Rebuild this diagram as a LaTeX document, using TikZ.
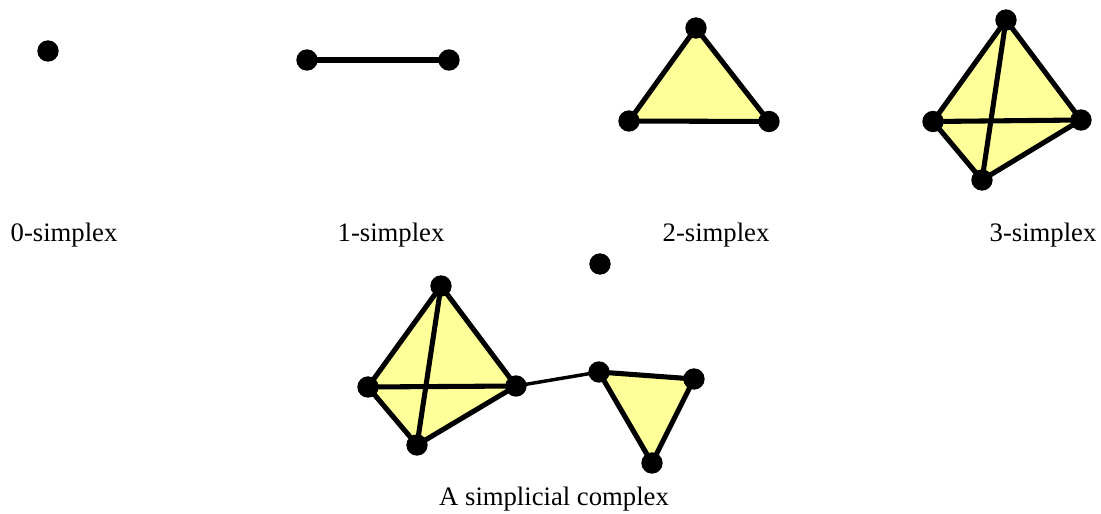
\documentclass[tikz,border=0pt]{standalone}
\usepackage{fontspec}
\setmainfont{Liberation Serif}
\usetikzlibrary{backgrounds}
\tikzset{
    vertex/.style={circle,fill=black,inner sep=0pt,outer sep=0pt,minimum size=16pt},
    edge/.style={line width=3.8pt,black},
    thinedge/.style={line width=2.6pt,black},
    face/.style={fill=facecolor},
    caption/.style={font=\fontsize{20pt}{24pt}\selectfont,inner sep=0pt}
}
\definecolor{facecolor}{HTML}{FFFF99}
\begin{document}
\begin{tikzpicture}[x=0.75pt,y=-0.75pt]
            \useasboundingbox (0,0) rectangle (1101,514);
            % 0-simplex
            \node[vertex] (p) at (48,51) {};
            \node[caption] (cp) at (64,235) {0-simplex};
            % 1-simplex
            \node[vertex] (la) at (307,60) {};
            \node[vertex] (lb) at (449,60) {};
            \draw[edge] (la.center) -- (lb.center);
            \node[caption] (cl) at (391,235) {1-simplex};
            % 2-simplex
            \node[vertex] (ta) at (696,28) {};
            \node[vertex] (tb) at (629,121) {};
            \node[vertex] (tc) at (769,121.5) {};
            \begin{scope}[on background layer]
                \fill[face] (ta.center) -- (tb.center) -- (tc.center) -- cycle;
                \draw[edge] (ta.center) -- (tb.center) -- (tc.center) -- cycle;
            \end{scope}
            \node[caption] (ct) at (716,235) {2-simplex};
            % 3-simplex
            \node[vertex] (sa) at (1006,20) {};
            \node[vertex] (sb) at (933,121.5) {};
            \node[vertex] (sc) at (1081,120) {};
            \node[vertex] (sd) at (982,180) {};
            \begin{scope}[on background layer]
                \fill[face] (sa.center) -- (sb.center) -- (sd.center) -- (sc.center) -- cycle;
                \draw[edge] (sa.center) -- (sb.center) -- (sd.center) -- (sc.center) -- cycle;
                \draw[edge] (sb.center) -- (sc.center);
                \draw[edge] (sa.center) -- (sd.center);
            \end{scope}
            \node[caption] (cs) at (1043,235) {3-simplex};
            % Complejo
            \node[vertex] (ka) at (441,286) {};
            \node[vertex] (kb) at (368,387) {};
            \node[vertex] (kc) at (516,386) {};
            \node[vertex] (kd) at (417,445) {};
            \node[vertex] (ke) at (600,264) {};
            \node[vertex] (kf) at (599,372) {};
            \node[vertex] (kg) at (694,379) {};
            \node[vertex] (kh) at (652,463) {};
            \begin{scope}[on background layer]
                \fill[face] (ka.center) -- (kb.center) -- (kd.center) -- (kc.center) -- cycle;
                \fill[face] (kf.center) -- (kg.center) -- (kh.center) -- cycle;
                \draw[edge] (ka.center) -- (kb.center) -- (kd.center) -- (kc.center) -- cycle;
                \draw[edge] (kb.center) -- (kc.center);
                \draw[edge] (ka.center) -- (kd.center);
                \draw[thinedge] (kc.center) -- (kf.center);
                \draw[edge] (kf.center) -- (kg.center) -- (kh.center) -- cycle;
            \end{scope}
            \node[caption] (ck) at (554,499) {A simplicial complex};
        \end{tikzpicture}
\end{document}
